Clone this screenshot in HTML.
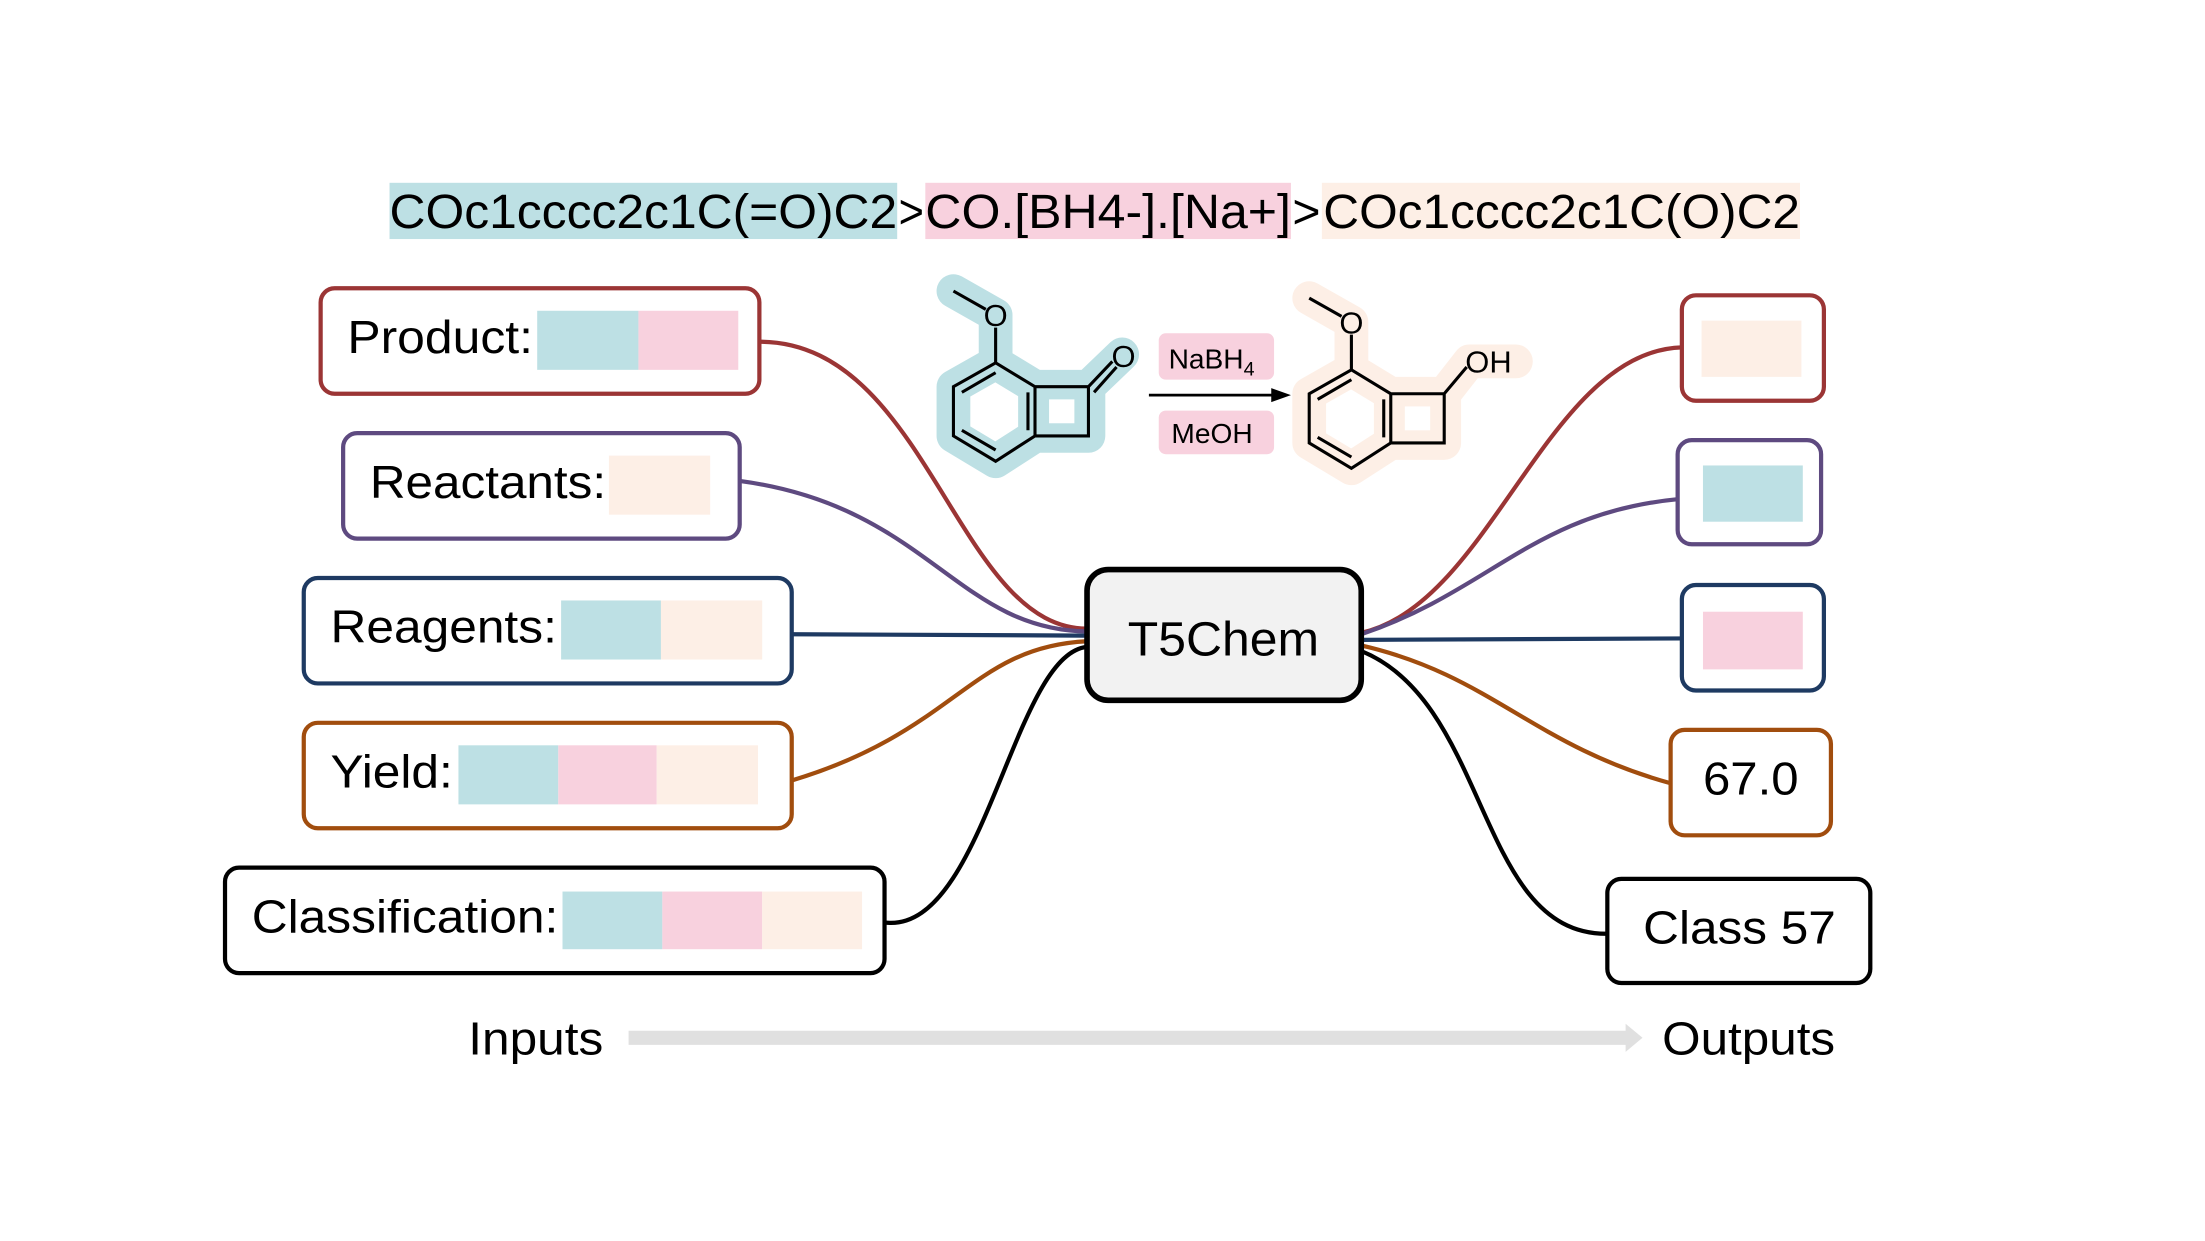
<!DOCTYPE html>
<html><head><meta charset="utf-8"><style>
html,body{margin:0;padding:0;background:#fff;}
svg{display:block;}
text{font-family:"Liberation Sans",Arial,sans-serif;fill:#000;}
</style></head><body>
<svg width="2205" height="1241" viewBox="0 0 1568 882.5" xmlns="http://www.w3.org/2000/svg">
<rect width="1600" height="900" fill="#fff"/>
<!-- SMILES -->
<rect x="277" y="130" width="361" height="40" fill="#bde0e4"/>
<rect x="658" y="130" width="260" height="40" fill="#f8d1de"/>
<rect x="940" y="130" width="340" height="40" fill="#fdefe6"/>
<g font-size="34">
<text x="277" y="162" textLength="361" lengthAdjust="spacingAndGlyphs">COc1cccc2c1C(=O)C2</text>
<text x="639" y="162" textLength="18" lengthAdjust="spacingAndGlyphs">&gt;</text>
<text x="658" y="162" textLength="260" lengthAdjust="spacingAndGlyphs">CO.[BH4-].[Na+]</text>
<text x="919" y="162" textLength="20" lengthAdjust="spacingAndGlyphs">&gt;</text>
<text x="941" y="162" textLength="339" lengthAdjust="spacingAndGlyphs">COc1cccc2c1C(O)C2</text>
</g>

<!-- connectors -->
<g fill="none" stroke-width="3">
<path d="M540,243 C660,243 680,447 773,447" stroke="#9b3535"/>
<path d="M526,342 C660,360 680,448 773,449" stroke="#5e4a80"/>
<path d="M563,451 L773,452" stroke="#1e3a62"/>
<path d="M563,555 C680,520 690,460 773,456" stroke="#a14d0e"/>
<path d="M629,656 C700,665 720,465 773,460" stroke="#000"/>
<path d="M968,450 C1060,430 1100,250 1196,247" stroke="#9b3535"/>
<path d="M968,451 C1060,420 1090,365 1193,355" stroke="#5e4a80"/>
<path d="M968,455 L1196,454" stroke="#1e3a62"/>
<path d="M968,459 C1060,480 1090,530 1188,557" stroke="#a14d0e"/>
<path d="M968,463 C1060,500 1050,665 1143,664" stroke="#000"/>
</g>

<!-- left boxes -->
<g fill="#fff" stroke-width="3">
<rect x="228" y="205" width="312" height="75" rx="10" stroke="#9b3535"/>
<rect x="244" y="308" width="282" height="75" rx="10" stroke="#5e4a80"/>
<rect x="216" y="411" width="347" height="75" rx="10" stroke="#1e3a62"/>
<rect x="216" y="514" width="347" height="75" rx="10" stroke="#a14d0e"/>
<rect x="160" y="617" width="469" height="75" rx="10" stroke="#000"/>
</g>
<rect x="382" y="221" width="72" height="42" fill="#bde0e4"/><rect x="454" y="221" width="71" height="42" fill="#f8d1de"/>
<rect x="433" y="324" width="72" height="42" fill="#fdefe6"/>
<rect x="399" y="427" width="71" height="42" fill="#bde0e4"/><rect x="470" y="427" width="72" height="42" fill="#fdefe6"/>
<rect x="326" y="530" width="71" height="42" fill="#bde0e4"/><rect x="397" y="530" width="70" height="42" fill="#f8d1de"/><rect x="467" y="530" width="72" height="42" fill="#fdefe6"/>
<rect x="400" y="634" width="71" height="41" fill="#bde0e4"/><rect x="471" y="634" width="71" height="41" fill="#f8d1de"/><rect x="542" y="634" width="71" height="41" fill="#fdefe6"/>
<g font-size="33">
<text x="247" y="251" textLength="132" lengthAdjust="spacingAndGlyphs">Product:</text>
<text x="263" y="354" textLength="168" lengthAdjust="spacingAndGlyphs">Reactants:</text>
<text x="235" y="457" textLength="161" lengthAdjust="spacingAndGlyphs">Reagents:</text>
<text x="235" y="560" textLength="87" lengthAdjust="spacingAndGlyphs">Yield:</text>
<text x="179" y="663" textLength="218" lengthAdjust="spacingAndGlyphs">Classification:</text>
</g>

<!-- center -->
<rect x="773" y="405" width="195" height="93" rx="15" fill="#f2f2f2" stroke="#000" stroke-width="4"/>
<text x="870" y="466" font-size="34" text-anchor="middle" textLength="136" lengthAdjust="spacingAndGlyphs">T5Chem</text>

<!-- right boxes -->
<g fill="#fff" stroke-width="3">
<rect x="1196" y="210" width="101" height="75" rx="10" stroke="#9b3535"/>
<rect x="1193" y="313" width="102" height="74" rx="10" stroke="#5e4a80"/>
<rect x="1196" y="416" width="101" height="75" rx="10" stroke="#1e3a62"/>
<rect x="1188" y="519" width="114" height="75" rx="10" stroke="#a14d0e"/>
<rect x="1143" y="625" width="187" height="74" rx="10" stroke="#000"/>
</g>
<rect x="1210" y="228" width="71" height="40" fill="#fdefe6"/>
<rect x="1211" y="331" width="71" height="40" fill="#bde0e4"/>
<rect x="1211" y="435" width="71" height="41" fill="#f8d1de"/>
<g font-size="33" text-anchor="middle">
<text x="1245" y="565" textLength="68" lengthAdjust="spacingAndGlyphs">67.0</text>
<text x="1237" y="671" textLength="137" lengthAdjust="spacingAndGlyphs">Class 57</text>
</g>

<!-- bottom arrow -->
<line x1="447" y1="738" x2="1158" y2="738" stroke="#e0e0e0" stroke-width="10"/>
<polygon points="1156,728 1168,738 1156,748" fill="#e0e0e0"/>
<g font-size="33">
<text x="333" y="750" textLength="96" lengthAdjust="spacingAndGlyphs">Inputs</text>
<text x="1182" y="750" textLength="123" lengthAdjust="spacingAndGlyphs">Outputs</text>
</g>

<!-- reactant molecule -->
<g stroke="#bde0e4" stroke-width="24" stroke-linecap="round" stroke-linejoin="round" fill="none">
<path d="M678,207 L708,224 L708,258 L678,275 L678,310 L708,328 L736,310 L736,275 L708,258 M736,275 L774,275 L774,310 L736,310 M774,275 L798,252"/>
</g>
<rect x="746" y="284" width="18" height="17" fill="#fff"/>
<g stroke="#000" stroke-width="2.2" fill="none">
<path d="M678,207 L701,220 M708,233 L708,258 L678,275 L678,310 L708,328 L736,310 L736,275 L708,258 M736,275 L774,275 L774,310 L736,310 M774,275 L791,257 M778,279 L794,261"/>
<path d="M684,279 L708,265 M684,306 L708,320 M731,279 L731,306"/>
</g>
<text x="708" y="232" font-size="22" text-anchor="middle">O</text>
<text x="799" y="261" font-size="22" text-anchor="middle">O</text>

<!-- reagents -->
<rect x="824" y="237" width="82" height="33" rx="5" fill="#f8d1de"/>
<rect x="824" y="292" width="82" height="31" rx="5" fill="#f8d1de"/>
<text x="831" y="262" font-size="20">NaBH<tspan font-size="14" dy="5">4</tspan></text>
<text x="833" y="315" font-size="20">MeOH</text>
<line x1="817" y1="281" x2="908" y2="281" stroke="#000" stroke-width="2"/>
<polygon points="904,276 918,281 904,286" fill="#000"/>

<!-- product molecule -->
<g transform="translate(253,5)">
<g stroke="#fdefe6" stroke-width="24" stroke-linecap="round" stroke-linejoin="round" fill="none">
<path d="M678,207 L708,224 L708,258 L678,275 L678,310 L708,328 L736,310 L736,275 L708,258 M736,275 L774,275 L774,310 L736,310 M774,275 L792,252 L825,252"/>
</g>
<rect x="746" y="284" width="18" height="17" fill="#fff"/>
<g stroke="#000" stroke-width="2.2" fill="none">
<path d="M678,207 L701,220 M708,233 L708,258 L678,275 L678,310 L708,328 L736,310 L736,275 L708,258 M736,275 L774,275 L774,310 L736,310 M774,275 L790,256"/>
<path d="M684,279 L708,265 M684,306 L708,320 M731,279 L731,306"/>
</g>
<text x="708" y="232" font-size="22" text-anchor="middle">O</text>
<text x="789" y="260" font-size="22">OH</text>
</g>
</svg>
</body></html>
